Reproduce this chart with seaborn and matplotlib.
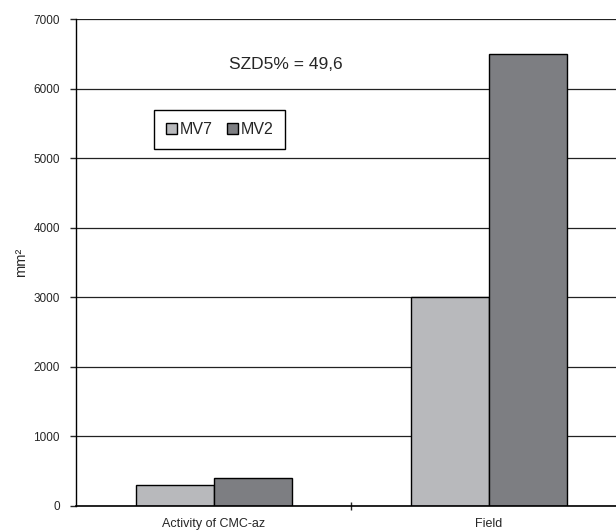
import pandas as pd
import numpy as np
import seaborn as sns
import matplotlib.pyplot as plt

# values
categories = ['Activity of CMC-az', 'Field']
varieties = ['MV7', 'MV2']
mv7_values = [300, 3000]
mv2_values = [400, 6500]
bar_colors = ['#b8b9bc', '#7d7e82']

df = pd.DataFrame({
    'category': categories * 2,
    'variety': ['MV7'] * 2 + ['MV2'] * 2,
    'value': mv7_values + mv2_values,
})

sns.set_style('white')
plt.rcParams['font.family'] = ['Liberation Sans', 'DejaVu Sans']

fig = plt.figure(figsize=(6.16, 5.31), dpi=100)
ax = fig.add_axes([0.124, 0.0476, 0.893, 0.916])

# gridlines behind the bars
ax.set_axisbelow(True)
ax.yaxis.grid(True, color='#222222', linewidth=0.9)

sns.barplot(data=df, x='category', y='value', hue='variety', hue_order=varieties,
            palette=bar_colors, width=0.57, edgecolor='black', linewidth=1,
            saturation=1, ax=ax)

ax.set_xlim(-0.5, 1.5)
ax.set_ylim(0, 7000)
ax.set_yticks(np.arange(0, 7001, 1000))
ax.tick_params(axis='y', labelsize=8.5, length=4, direction='out', left=True, width=1, pad=8)
ax.tick_params(axis='x', which='major', labelsize=9, length=0, pad=9)
ax.set_xticks([0.5], minor=True)
ax.tick_params(axis='x', which='minor', length=6, direction='inout', bottom=True, width=1)
ax.set_xlabel('')
ax.set_ylabel('mm²', fontsize=10.5, labelpad=4)

for side in ['top', 'right']:
    ax.spines[side].set_visible(False)
ax.spines['left'].set_color('black')
ax.spines['bottom'].set_color('black')
ax.spines['left'].set_linewidth(1)
ax.spines['bottom'].set_linewidth(1.2)

ax.text(0.26, 6355, 'SZD5% = 49,6', fontsize=12.5, ha='center', va='center')

handles, labels = ax.get_legend_handles_labels()
ax.legend(handles, labels, ncol=2, loc='upper left', bbox_to_anchor=(0.141, 0.8135),
          borderaxespad=0, fontsize=11.5, frameon=True, fancybox=False, edgecolor='black',
          handlelength=0.7, handleheight=0.7, handletextpad=0.15,
          columnspacing=0.9, borderpad=0.75, framealpha=1)

plt.savefig('out.png', dpi=100)
